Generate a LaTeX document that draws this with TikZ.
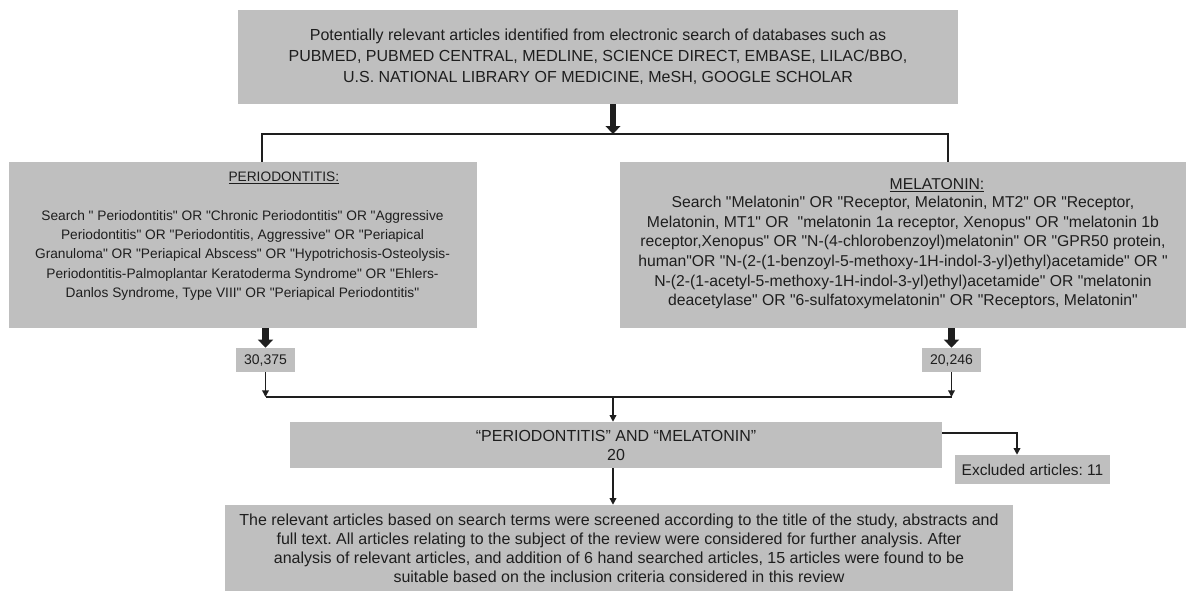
\documentclass[tikz,border=0pt]{standalone}
\usepackage{fontspec}
\setmainfont{Liberation Sans}[Ligatures=TeXOff]
\usetikzlibrary{arrows.meta}
\definecolor{boxgray}{RGB}{191,191,191}
\definecolor{ink}{RGB}{30,30,30}
\frenchspacing

\begin{document}
\begin{tikzpicture}[x=0.75pt,y=-0.75pt,
  box/.style={fill=boxgray,inner sep=0pt,align=center,text=ink,font=\fontsize{12}{14.5}\selectfont},
  bigarrow/.style={draw=ink,line width=5pt,-{Triangle[width=11pt,length=6pt]}},
  smallarrow/.style={draw=ink,line width=1pt,-{Triangle[width=5pt,length=5pt]}},
  joinline/.style={draw=ink,line width=1pt}]
\useasboundingbox (0,0) rectangle (1193,590);

\node[box,minimum width=540pt,minimum height=70.5pt,font=\fontsize{12}{15.75}\selectfont] (top) at (598,57)
  {Potentially relevant articles identified from electronic search of databases such as\\
   PUBMED, PUBMED CENTRAL, MEDLINE, SCIENCE DIRECT, EMBASE, LILAC/BBO,\\
   U.S. NATIONAL LIBRARY OF MEDICINE, MeSH, GOOGLE SCHOLAR};

\node[box,font=\fontsize{10.3}{14.5}\selectfont] (peri) at (242.5,245) {\parbox[c][124.5pt][t]{351pt}{\centering\vspace*{7.5pt}
  \hspace*{62pt}\underline{PERIODONTITIS:}\\[14.5pt]
  Search " Periodontitis" OR "Chronic Periodontitis" OR "Aggressive\\
  Periodontitis" OR "Periodontitis, Aggressive" OR "Periapical\\
  Granuloma" OR "Periapical Abscess" OR "Hypotrichosis-Osteolysis-\\
  Periodontitis-Palmoplantar Keratoderma Syndrome" OR "Ehlers-\\
  Danlos Syndrome, Type VIII" OR "Periapical Periodontitis"}};

\node[box,font=\fontsize{11.8}{14.7}\selectfont] (mela) at (903,245) {\parbox[c][124.5pt][t]{424pt}{\centering\vspace*{12.5pt}
  \hspace*{51pt}\underline{MELATONIN:}\\[-1.2pt]
  Search "Melatonin" OR "Receptor, Melatonin, MT2" OR "Receptor,\\
  Melatonin, MT1" OR\ \ "melatonin 1a receptor, Xenopus" OR "melatonin 1b\\
  receptor,Xenopus" OR "N-(4-chlorobenzoyl)melatonin" OR "GPR50 protein,\\
  human"OR "N-(2-(1-benzoyl-5-methoxy-1H-indol-3-yl)ethyl)acetamide" OR "\\
  N-(2-(1-acetyl-5-methoxy-1H-indol-3-yl)ethyl)acetamide" OR "melatonin\\
  deacetylase" OR "6-sulfatoxymelatonin" OR "Receptors, Melatonin"}};

\node[box,minimum width=44.25pt,minimum height=18pt,font=\fontsize{10.5}{12}\selectfont] (n1) at (265.5,360) {30,375};
\node[box,minimum width=44.25pt,minimum height=18pt,font=\fontsize{10.5}{12}\selectfont] (n2) at (951.5,360) {20,246};

\node[box,minimum width=489pt,minimum height=34.5pt,font=\fontsize{12}{14.25}\selectfont] (both) at (616,445)
  {“PERIODONTITIS” AND “MELATONIN”\\20};

\node[box,minimum width=116.25pt,minimum height=21.75pt,font=\fontsize{11.6}{14}\selectfont] (excl) at (1032.5,469.5) {Excluded articles: 11};

\node[box,minimum width=591pt,minimum height=65.25pt,font=\fontsize{12}{14.25}\selectfont] (final) at (619,548.5)
  {The relevant articles based on search terms were screened according to the title of the study, abstracts and\\
   full text. All articles relating to the subject of the review were considered for further analysis. After\\
   analysis of relevant articles, and addition of 6 hand searched articles, 15 articles were found to be\\
   suitable based on the inclusion criteria considered in this review};

\coordinate (split) at (613,134);
\coordinate (lsplit) at (262,134);
\coordinate (rsplit) at (948,134);
\coordinate (join) at (613,397);
\coordinate (out) at (1017,433);

\draw[bigarrow] (top.south -| split) -- (split);
\draw[joinline] (lsplit |- peri.north) -- (lsplit) -- (rsplit) -- (rsplit |- mela.north);
\draw[bigarrow] (n1.north |- peri.south) -- (n1.north);
\draw[bigarrow] (n2.north |- mela.south) -- (n2.north);
\draw[smallarrow] (n1.south) -- (n1.south |- join);
\draw[smallarrow] (n2.south) -- (n2.south |- join);
\draw[joinline] (n1.south |- join) -- (n2.south |- join);
\draw[smallarrow] (join) -- (join |- both.north);
\draw[smallarrow] (both.east |- out) -- (out) -- (out |- excl.north);
\draw[smallarrow] (both.south -| join) -- (join |- final.north);
\end{tikzpicture}
\end{document}
